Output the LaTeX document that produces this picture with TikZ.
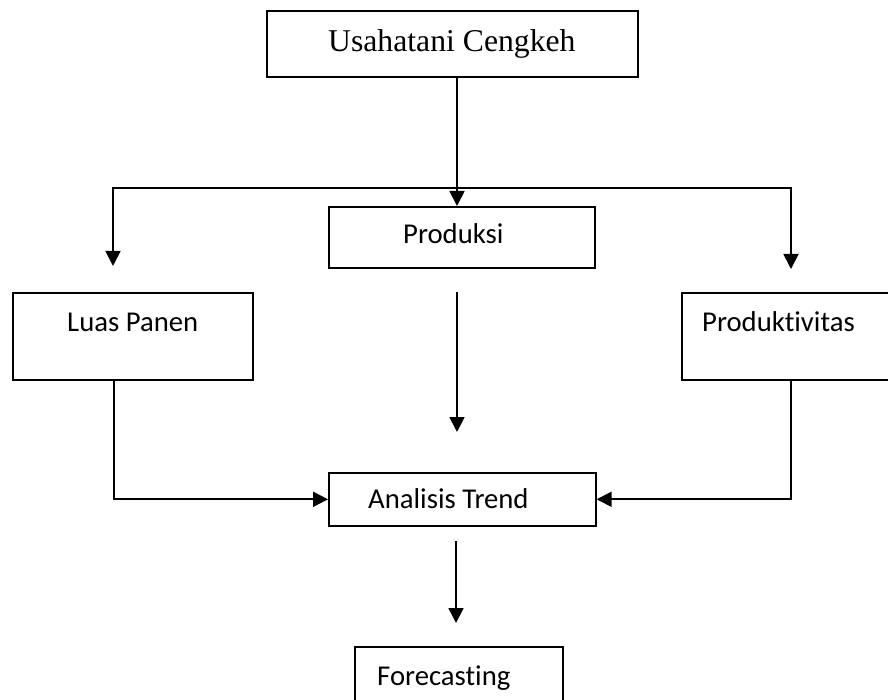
\documentclass[tikz,border=0pt]{standalone}
\usepackage{fontspec}
\setmainfont{Carlito}[Ligatures=NoCommon]
\newfontfamily\serifx{Liberation Serif}
\usetikzlibrary{arrows.meta}
\begin{document}
\begin{tikzpicture}[x=1pt,y=-1pt,
  box/.style={draw, line width=1.6pt, rectangle, inner sep=0pt, anchor=north west},
  lbl/.style={anchor=base west, inner sep=0pt, font=\fontsize{28.7}{34}\selectfont},
  conn/.style={line width=1.8pt},
  arr/.style={conn, -{Triangle[length=15pt,width=15pt]}}]
\useasboundingbox (0,0) rectangle (888,700);
% boxes
\node[box, minimum width=371pt, minimum height=66pt] (uc) at (266,10) {};
\node[box, minimum width=266pt, minimum height=61pt] (pr) at (328,206) {};
\node[box, minimum width=240pt, minimum height=87pt] (lp) at (12,292) {};
\node[box, minimum width=220pt, minimum height=87pt] (pt) at (681,292) {};
\node[box, minimum width=267pt, minimum height=53pt] (at) at (328,472) {};
\node[box, minimum width=208pt, minimum height=70pt] (fc) at (354,646) {};
% labels
\node[anchor=base west, inner sep=0pt, font=\serifx\fontsize{31.7}{38}\selectfont] (ucl) at (328,52) {Usahatani Cengkeh};
\node[lbl] (prl) at (403,244) {Produksi};
\node[lbl] (lpl) at (67,331) {Luas Panen};
\node[lbl] (ptl) at (702,331) {Produktivitas};
\node[lbl] (atl) at (368,508) {Analisis Trend};
\node[lbl] (fcl) at (377,685) {Forecasting};
% connector points
\coordinate (ucb) at (457,76);
\coordinate (jl) at (113,188);
\coordinate (jr) at (791,188);
\coordinate (tl) at (113,266);
\coordinate (tr) at (791,269);
\coordinate (ms) at (457,292);
\coordinate (me) at (457,432);
\coordinate (lpb) at (114,379);
\coordinate (ptb) at (791,379);
\coordinate (bs) at (456,541);
\coordinate (be) at (456,623);
% connectors
\draw[arr] (ucb) -- (ucb |- pr.north);
\draw[conn, {Triangle[length=15pt,width=15pt]}-{Triangle[length=15pt,width=15pt]}] (tl) -- (jl) -- (jr) -- (tr);
\draw[arr] (ms) -- (me);
\draw[arr] (lpb) |- (at.west);
\draw[arr] (ptb) |- (at.east);
\draw[arr] (bs) -- (be);
\end{tikzpicture}
\end{document}
